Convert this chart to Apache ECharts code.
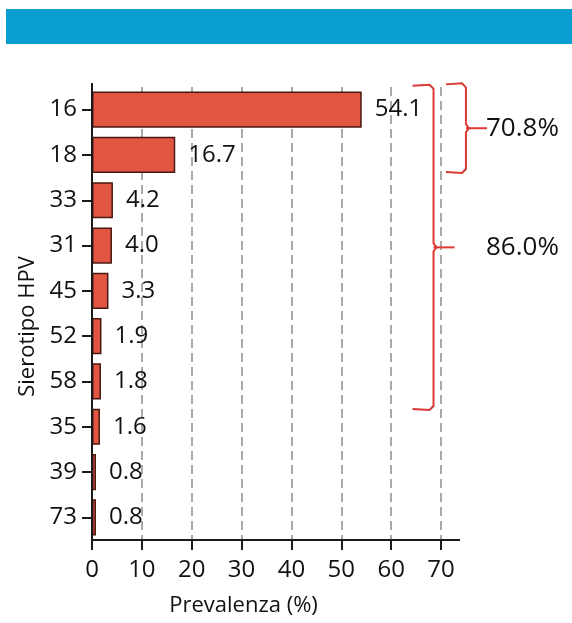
<!DOCTYPE html>
<html>
<head>
<meta charset="utf-8">
<script src="https://cdn.jsdelivr.net/npm/echarts@6/dist/echarts.min.js"></script>
<style>
html,body{margin:0;padding:0;background:#fff;}
#chart{width:572px;height:623px;}
</style>
</head>
<body>
<div id="chart"></div>
<script>
// ---- data ----
const categories = ['16', '18', '33', '31', '45', '52', '58', '35', '39', '73'];
const prevalence = [54.1, 16.7, 4.2, 4.0, 3.3, 1.9, 1.8, 1.6, 0.8, 0.8];
const xTickValues = [0, 10, 20, 30, 40, 50, 60, 70];
const bracketLabels = ['70.8%', '86.0%'];
const bracketLastIndex = [1, 6]; // brackets cover categories 0..index

const FONT = '"Open Sans", "Noto Sans", sans-serif';
const TXT = '#111111';
const RED = '#dc3834';

const chart = echarts.init(document.getElementById('chart'), null, {renderer: 'canvas'});

const option = {
  animation: false,
  backgroundColor: '#ffffff',
  grid: {left: 92, right: 131, top: 87, bottom: 83, containLabel: false},
  xAxis: {
    type: 'value',
    min: xTickValues[0],
    max: xTickValues[xTickValues.length - 1],
    interval: 10,
    name: 'Prevalenza (%)',
    nameLocation: 'middle',
    nameGap: 55,
    nameTextStyle: {fontFamily: FONT, fontSize: 22, fontWeight: 500, color: TXT, padding: [0, 46, 0, 0]},
    axisLine: {show: true, lineStyle: {color: '#1a1a1a', width: 2}},
    axisTick: {show: true, length: 10, lineStyle: {color: '#1a1a1a', width: 2}},
    axisLabel: {fontFamily: FONT, fontSize: 24, fontWeight: 500, color: TXT, margin: 18},
    splitLine: {show: true, lineStyle: {color: '#a9a9a9', width: 2, type: [9, 5]}}
  },
  yAxis: {
    type: 'category',
    inverse: true,
    data: categories,
    name: 'Sierotipo HPV',
    nameLocation: 'middle',
    nameGap: 52,
    nameTextStyle: {fontFamily: FONT, fontSize: 22, fontWeight: 500, color: TXT, padding: [0, 26, 0, 0]},
    axisLine: {show: true, lineStyle: {color: '#1a1a1a', width: 2}},
    axisTick: {show: true, alignWithLabel: true, length: 10, lineStyle: {color: '#1a1a1a', width: 2}},
    axisLabel: {fontFamily: FONT, fontSize: 24, fontWeight: 500, color: TXT, margin: 15},
    splitLine: {show: false}
  },
  series: [{
    type: 'bar',
    data: prevalence,
    barCategoryGap: '20%',
    itemStyle: {color: '#e05643', borderColor: '#4a1810', borderWidth: 1.5},
    label: {
      show: true,
      position: 'right',
      distance: 13,
      fontFamily: FONT,
      fontSize: 24,
      fontWeight: 500,
      color: TXT,
      formatter: p => p.value.toFixed(1)
    }
  }]
};
chart.setOption(option);

// ---- annotations (positions derived from the axes) ----
function buildGraphics() {
  const c0 = chart.convertToPixel({yAxisIndex: 0}, categories[0]);
  const c1 = chart.convertToPixel({yAxisIndex: 0}, categories[1]);
  const band = c1 - c0;
  const x0 = chart.convertToPixel({xAxisIndex: 0}, 0);
  const x70 = chart.convertToPixel({xAxisIndex: 0}, 70);
  const gridTop = c0 - band / 2;
  const gridBottom = c0 + band * (categories.length - 0.5);
  const unit = (x70 - x0) / 70;

  const g = [];
  // header banner
  g.push({type: 'rect', shape: {x: 6, y: 9, width: 570, height: 35}, style: {fill: '#0a9dd0'}, z: 10});
  // axis line extensions
  g.push({type: 'line', shape: {x1: x0, y1: gridTop - 4, x2: x0, y2: gridBottom}, style: {stroke: '#1a1a1a', lineWidth: 2}, z: 10});
  g.push({type: 'line', shape: {x1: x70, y1: gridBottom, x2: x70 + 19, y2: gridBottom}, style: {stroke: '#1a1a1a', lineWidth: 2}, z: 10});

  // brackets
  const specs = [
    {x: x0 + 75 * unit, top: c0 - 0.58 * band, bottom: chart.convertToPixel({yAxisIndex: 0}, categories[bracketLastIndex[0]]) + 0.4 * band, hook: 20, nub: 21},
    {x: x0 + 68.5 * unit, top: c0 - 0.55 * band, bottom: chart.convertToPixel({yAxisIndex: 0}, categories[bracketLastIndex[1]]) + 0.63 * band, hook: 21, nub: 21}
  ];
  specs.forEach((s, i) => {
    const mid = (s.top + s.bottom) / 2;
    const r = 4;
    g.push({
      type: 'polyline',
      shape: {points: [
        [s.x - s.hook, s.top + 1], [s.x - r, s.top], [s.x, s.top + r],
        [s.x, mid - r], [s.x + 3, mid], [s.x, mid + r],
        [s.x, s.bottom - r], [s.x - r, s.bottom], [s.x - s.hook, s.bottom - 1]
      ]},
      style: {stroke: RED, lineWidth: 2, fill: null}, z: 10
    });
    g.push({type: 'line', shape: {x1: s.x, y1: mid, x2: s.x + s.nub, y2: mid}, style: {stroke: RED, lineWidth: 2}, z: 10});
    g.push({
      type: 'text', x: 486, y: mid, z: 10,
      style: {text: bracketLabels[i], font: '500 26px ' + FONT, fill: TXT, textAlign: 'left', textVerticalAlign: 'middle'}
    });
  });
  chart.setOption({graphic: g});
}
buildGraphics();
</script>
</body>
</html>
